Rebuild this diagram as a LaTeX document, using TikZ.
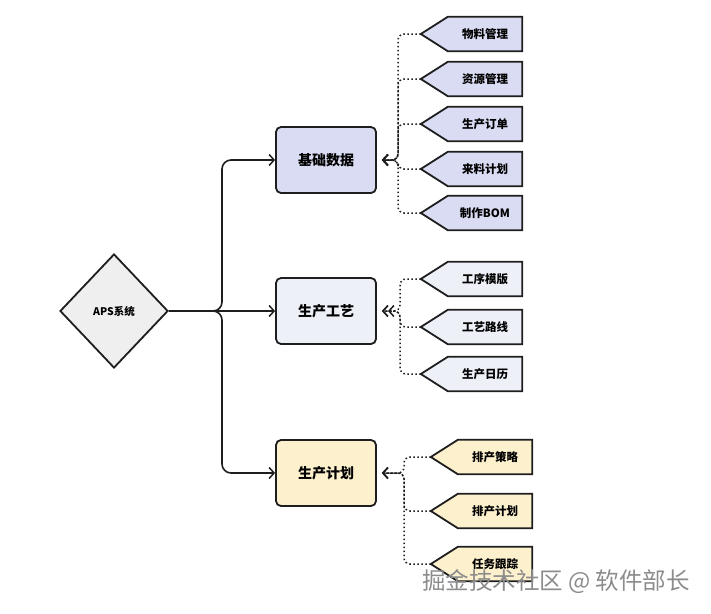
\documentclass[tikz,border=0pt]{standalone}
\usepackage{fontspec}
\setmainfont{Noto Sans CJK SC}
\usetikzlibrary{shapes.geometric,arrows.meta,backgrounds}
\definecolor{cA}{HTML}{D9DCF2}
\definecolor{cB}{HTML}{EEF0F8}
\definecolor{cC}{HTML}{FCF0CD}
\definecolor{cD}{HTML}{EFEFEF}
\definecolor{ink}{HTML}{1E1E1E}
\begin{document}
\begin{tikzpicture}[x=1pt,y=-1pt,
  mainbox/.style={draw=ink, line width=1.8pt, rounded corners=5pt, minimum width=100pt, minimum height=66pt, font=\fontsize{14}{16}\selectfont\bfseries},
  leaftext/.style={minimum width=74pt, minimum height=34pt, inner sep=0pt, font=\fontsize{11.5}{13}\selectfont\bfseries},
  tagshape/.style={draw=ink, line width=1.8pt, line join=miter},
  arr/.style={-{Straight Barb[length=5pt,width=11pt,line width=1.5pt]}},
  solidcon/.style={draw=ink, line width=1.6pt, rounded corners=9pt, arr},
  dotcon/.style={draw=ink, line width=1.5pt, dash pattern=on 1.5pt off 2.5pt, rounded corners=6pt, arr, shorten >=5pt}]
\useasboundingbox (0,0) rectangle (711,613);

% root
\node[diamond, draw=ink, line width=1.8pt, fill=cD, minimum width=108pt, minimum height=114pt, inner sep=0pt,
      font=\fontsize{10.5}{12}\selectfont\bfseries] (aps) at (114,311) {APS系统};

% main boxes
\node[mainbox, fill=cA] (b1) at (326,160) {基础数据};
\node[mainbox, fill=cB] (b2) at (326,311) {生产工艺};
\node[mainbox, fill=cC] (b3) at (326,473) {生产计划};

% leaves
\node[leaftext] (l1) at (485,34) {物料管理};
\node[leaftext] (l2) at (485,79) {资源管理};
\node[leaftext] (l3) at (485,124) {生产订单};
\node[leaftext] (l4) at (485,169) {来料计划};
\node[leaftext] (l5) at (485,213) {制作BOM};
\node[leaftext] (m1) at (485,279) {工序模版};
\node[leaftext] (m2) at (485,327) {工艺路线};
\node[leaftext] (m3) at (485,374) {生产日历};
\node[leaftext] (n1) at (495,457) {排产策略};
\node[leaftext] (n2) at (495,511) {排产计划};
\node[leaftext] (n3) at (495,564) {任务跟踪};

\foreach \n in {l1,l2,l3,l4,l5,m1,m2,m3,n1,n2,n3}
  \coordinate (\n-tip) at ([xshift=-27pt]\n.west);

\begin{scope}[on background layer]
  \foreach \n/\c in {l1/cA,l2/cA,l3/cA,l4/cA,l5/cA,m1/cB,m2/cB,m3/cB,n1/cC,n2/cC,n3/cC}
    \draw[tagshape, fill=\c] (\n.north east) -- (\n.south east) -- (\n.south west) -- (\n-tip) -- (\n.north west) -- cycle;
\end{scope}

% root connectors (brace)
\coordinate (j) at (222,311);
\draw[solidcon] (aps.east) -- (j) |- (b1.west);
\draw[solidcon] (aps.east) -- (j) |- (b3.west);
\draw[solidcon] (aps.east) -- (b2.west);

% dotted connectors
\coordinate (v1) at (398,160);
\coordinate (v2) at (400,311);
\coordinate (v3) at (404,473);
\foreach \n in {l1,l2,l3,l4,l5}
  \draw[dotcon] (\n-tip) -| (v1) -- (b1.east);
\foreach \n in {m1,m3}
  \draw[dotcon] (\n-tip) -| (v2) -- (b2.east);
\draw[dotcon, shorten >=11pt] (m2-tip) -| (v2) -- (b2.east);
\foreach \n in {n1,n2,n3}
  \draw[dotcon] (\n-tip) -| (v3) -- (b3.east);

% watermark
\node[text=black!45, font=\fontsize{23.5}{26}\selectfont] (wm) at (556,582) {掘金技术社区 @ 软件部长};
\end{tikzpicture}
\end{document}
